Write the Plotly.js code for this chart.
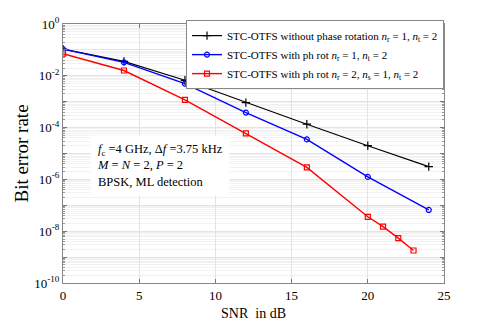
<!DOCTYPE html>
<html>
<head>
<meta charset="utf-8">
<script src="https://cdn.plot.ly/plotly-3.0.1.min.js"></script>
<style>
  html, body { margin: 0; padding: 0; background: #fff; }
  #chart { width: 491px; height: 327px; }
</style>
</head>
<body>
<div id="chart"></div>
<script>
// SNR points (dB)
const snrShort = [0, 4, 8, 12, 16, 20, 24];
const snrLong = [0, 4, 8, 12, 16, 20, 21, 22, 23];

// BER
const berNoRot = [0.107, 0.036, 6.7e-3, 9.2e-4, 1.35e-4, 2.0e-5, 3.1e-6];
const berRot = [0.107, 0.033, 5.0e-3, 3.8e-4, 3.5e-5, 1.25e-6, 6.6e-8];
const berRot2 = [0.071, 0.016, 1.17e-3, 6.0e-5, 2.9e-6, 3.6e-8, 1.5e-8, 5.4e-9, 1.8e-9];

const seriesNames = [
  'STC-OTFS without phase rotation <i>n</i><sub>r</sub> = 1, <i>n</i><sub>t</sub> = 2',
  'STC-OTFS with ph rot <i>n</i><sub>r</sub> = 1, <i>n</i><sub>t</sub> = 2',
  'STC-OTFS with ph rot <i>n</i><sub>r</sub> = 2, <i>n</i><sub>s</sub> = 1, <i>n</i><sub>t</sub> = 2'
];

const xTicks = [0, 5, 10, 15, 20, 25];
const yExp = [0, -1, -2, -3, -4, -5, -6, -7, -8, -9, -10];

const serif = 'Liberation Serif';

const makeTrace = (x, y, name, color, symbol) => ({
  x, y, name,
  type: 'scatter',
  mode: 'lines+markers',
  line: { color, width: symbol === 'cross-thin' ? 1.2 : 1.4 },
  marker: { symbol, size: symbol === 'cross-thin' ? 6 : 5, color, line: { color, width: 1.2 } }
});

const traces = [
  makeTrace(snrShort, berNoRot, seriesNames[0], '#000000', 'cross-thin'),
  makeTrace(snrShort, berRot, seriesNames[1], '#0000ff', 'circle-open'),
  makeTrace(snrLong, berRot2, seriesNames[2], '#ff0000', 'square-open')
];

const layout = {
  width: 491,
  height: 327,
  margin: { l: 63, r: 47, t: 24, b: 44 },
  paper_bgcolor: '#ffffff',
  plot_bgcolor: '#ffffff',
  font: { family: serif, color: '#000', size: 12 },
  showlegend: true,
  legend: {
    x: 1, y: 1.015, xanchor: 'right', yanchor: 'top',
    bgcolor: '#ffffff', bordercolor: '#888', borderwidth: 1,
    font: { family: serif, size: 11 },
    tracegroupgap: 0, itemwidth: 30
  },
  xaxis: {
    range: [0, 25],
    tickvals: xTicks,
    ticktext: xTicks.map(String),
    ticks: 'inside', ticklen: 4, tickcolor: '#777',
    showline: true, linecolor: '#888', mirror: 'ticks',
    showgrid: true, gridcolor: '#e3e3e3',
    zeroline: false,
    tickfont: { family: serif, size: 13 },
    title: { text: 'SNR  in dB', font: { family: serif, size: 14 }, standoff: 6 }
  },
  yaxis: {
    type: 'log',
    range: [-10, 0],
    tickvals: yExp.map(e => Math.pow(10, e)),
    ticktext: yExp.map(e => (e % 2 === 0 ? '10<sup>' + e + '</sup>' : '')),
    ticks: 'inside', ticklen: 4, tickcolor: '#777',
    showline: true, linecolor: '#888', mirror: 'ticks',
    showgrid: true, gridcolor: '#e3e3e3',
    minor: { dtick: 'D1', showgrid: true, gridcolor: '#f2f2f2', ticks: 'inside', ticklen: 2, tickcolor: '#999' },
    zeroline: false,
    tickfont: { family: serif, size: 13 },
    title: { text: 'Bit error rate', font: { family: serif, size: 19 }, standoff: 0 }
  },
  annotations: [{
    xref: 'paper', yref: 'paper',
    x: 0.07, y: 0.455, xanchor: 'left', yanchor: 'middle',
    align: 'left', showarrow: false,
    bgcolor: '#ffffff', borderpad: 6,
    font: { family: serif, size: 12.5, color: '#000' },
    text: '<i>f</i><sub>c</sub> =4 GHz, Δ<i>f</i> =3.75 kHz<br><i>M</i> = <i>N</i> = 2, <i>P</i> = 2<br>BPSK, ML detection'
  }]
};

Plotly.newPlot('chart', traces, layout, { displayModeBar: false, staticPlot: true });
</script>
</body>
</html>
